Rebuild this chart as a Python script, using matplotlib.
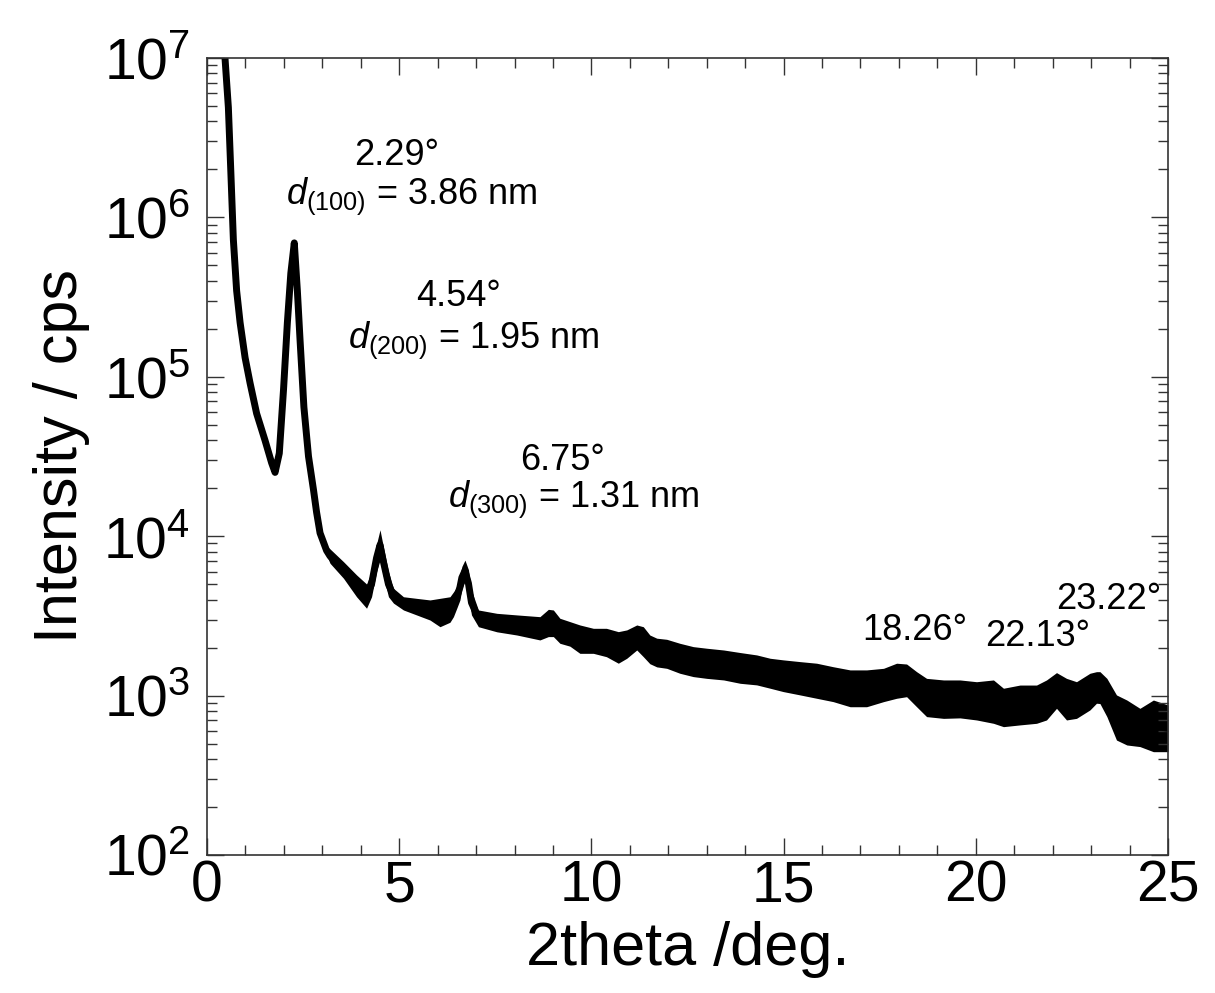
import numpy as np
import matplotlib
matplotlib.use("Agg")
import matplotlib.pyplot as plt
from matplotlib.ticker import LogLocator, MultipleLocator, NullFormatter

plt.rcParams["font.family"] = ["Liberation Sans", "DejaVu Sans"]
plt.rcParams["mathtext.fontset"] = "custom"
plt.rcParams["mathtext.rm"] = "Liberation Sans"
plt.rcParams["mathtext.it"] = "Liberation Sans:italic"
plt.rcParams["mathtext.bf"] = "Liberation Sans:bold"

# XRD scan, 2theta in degrees. Intensities stored as log10(cps):
# upper / lower edge of the counting-noise band (equal where the trace is clean)
two_theta = np.array([
    0.42, 0.47, 0.555, 0.62, 0.685, 0.77, 0.86, 0.99, 1.12, 1.29, 1.51, 1.68,
    1.77, 1.88, 1.99, 2.09, 2.18, 2.27, 2.35, 2.42, 2.52, 2.64, 2.77, 2.85,
    2.94, 3.11, 3.20, 3.55, 3.89, 4.15, 4.28, 4.41, 4.50, 4.59, 4.72, 4.85,
    5.11, 5.45, 5.80, 6.06, 6.32, 6.41, 6.50, 6.58, 6.63, 6.71, 6.80, 6.88,
    7.06, 7.54, 8.06, 8.66, 8.88, 9.01, 9.18, 9.44, 9.70, 10.05, 10.39, 10.70,
    10.92, 11.18, 11.35, 11.52, 11.70, 11.96, 12.30, 12.65, 13.00, 13.44,
    13.87, 14.30, 14.65, 14.99, 15.43, 15.86, 16.29, 16.73, 17.16, 17.60,
    17.94, 18.20, 18.46, 18.72, 19.16, 19.59, 20.02, 20.46, 20.72, 21.15,
    21.58, 21.84, 22.10, 22.36, 22.62, 22.97, 23.14, 23.23, 23.41, 23.66,
    23.93, 24.27, 24.62, 25.00,
])
log_upper = np.array([
    7.25, 6.99, 6.69, 6.28, 5.86, 5.54, 5.34, 5.12, 4.96, 4.77, 4.60, 4.46,
    4.40, 4.52, 4.92, 5.34, 5.65, 5.84, 5.54, 5.23, 4.81, 4.50, 4.29, 4.15,
    4.02, 3.94, 3.92, 3.84, 3.757, 3.70, 3.777, 3.95, 4.04, 3.93, 3.777, 3.673,
    3.62, 3.61, 3.60, 3.61, 3.62, 3.65, 3.683, 3.76, 3.81, 3.85, 3.79, 3.66,
    3.537, 3.516, 3.506, 3.495, 3.541, 3.537, 3.485, 3.464, 3.443, 3.422, 3.422, 3.401,
    3.412, 3.443, 3.432, 3.38, 3.36, 3.353, 3.328, 3.307, 3.297, 3.286,
    3.27, 3.255, 3.234, 3.224, 3.213, 3.203, 3.181, 3.161, 3.161, 3.171,
    3.203, 3.198, 3.15, 3.108, 3.098, 3.098, 3.087, 3.098, 3.046, 3.066,
    3.066, 3.098, 3.144, 3.108, 3.087, 3.14, 3.15, 3.15, 3.108, 3.004,
    2.972, 2.92, 2.972, 2.941,
])
log_lower = np.array([
    7.25, 6.99, 6.69, 6.28, 5.86, 5.54, 5.34, 5.12, 4.96, 4.77, 4.60, 4.46,
    4.40, 4.52, 4.92, 5.34, 5.65, 5.84, 5.54, 5.23, 4.81, 4.50, 4.29, 4.15,
    4.02, 3.88, 3.83, 3.736, 3.62, 3.548, 3.62, 3.777, 3.85, 3.746, 3.62, 3.58,
    3.537, 3.506, 3.474, 3.432, 3.46, 3.495, 3.55, 3.60, 3.67, 3.715, 3.62, 3.506,
    3.432, 3.40, 3.38, 3.349, 3.37, 3.37, 3.328, 3.31, 3.265, 3.265, 3.244, 3.203,
    3.234, 3.286, 3.244, 3.20, 3.18, 3.171, 3.14, 3.119, 3.108, 3.098,
    3.077, 3.067, 3.046, 3.025, 3.004, 2.983, 2.962, 2.93, 2.93, 2.962,
    2.983, 2.993, 2.93, 2.868, 2.857, 2.86, 2.847, 2.826, 2.805, 2.816,
    2.826, 2.847, 2.92, 2.847, 2.857, 2.91, 2.952, 2.95, 2.868, 2.721,
    2.69, 2.68, 2.648, 2.648,
])
intensity_upper = 10.0 ** log_upper
intensity_lower = 10.0 ** log_lower
intensity_mid = 10.0 ** ((log_upper + log_lower) / 2)

# peak labels: (text, 2theta, intensity, horizontal alignment)
peak_labels = [
    ("2.29\u00b0", 4.94, 2.45e6, "center"),
    ("$\\mathit{d}_{\\mathrm{(100)}}$ = 3.86 nm", 2.05, 1.35e6, "left"),
    ("4.54\u00b0", 6.53, 3.2e5, "center"),
    ("$\\mathit{d}_{\\mathrm{(200)}}$ = 1.95 nm", 3.66, 1.7e5, "left"),
    ("6.75\u00b0", 9.24, 3.0e4, "center"),
    ("$\\mathit{d}_{\\mathrm{(300)}}$ = 1.31 nm", 6.27, 1.7e4, "left"),
    ("18.26\u00b0", 18.4, 2.55e3, "center"),
    ("22.13\u00b0", 21.6, 2.35e3, "center"),
    ("23.22\u00b0", 23.45, 4.0e3, "center"),
]

fig = plt.figure(figsize=(12.15, 9.93), dpi=100)
ax = fig.add_axes([0.1704, 0.139, 0.7909, 0.8026])

ax.fill_between(two_theta, intensity_lower, intensity_upper, color="black", lw=0)
ax.plot(two_theta, intensity_mid, color="black", lw=5, solid_joinstyle="round")

for text, x, y, ha in peak_labels:
    ax.text(x, y, text, ha=ha, va="center", fontsize=26)

ax.set_yscale("log")
ax.set_xlim(0, 25)
ax.set_ylim(1e2, 1e7)

ax.xaxis.set_major_locator(MultipleLocator(5))
ax.xaxis.set_minor_locator(MultipleLocator(1))
ax.yaxis.set_major_locator(LogLocator(base=10, numticks=10))
ax.yaxis.set_minor_locator(LogLocator(base=10, subs=np.arange(2, 10), numticks=20))
ax.yaxis.set_minor_formatter(NullFormatter())

ax.tick_params(which="both", direction="in", top=True, right=True, width=1, color="#333333")
ax.tick_params(which="major", length=12)
ax.tick_params(which="minor", length=7)
ax.tick_params(axis="x", labelsize=41, pad=3)
ax.tick_params(axis="y", labelsize=41, pad=12)

for spine in ax.spines.values():
    spine.set_linewidth(1.2)
    spine.set_color("#333333")

ax.set_xlabel("2theta /deg.", fontsize=44, labelpad=6)
ax.set_ylabel("Intensity / cps", fontsize=44, labelpad=10)

fig.savefig("out.png", dpi=100)
